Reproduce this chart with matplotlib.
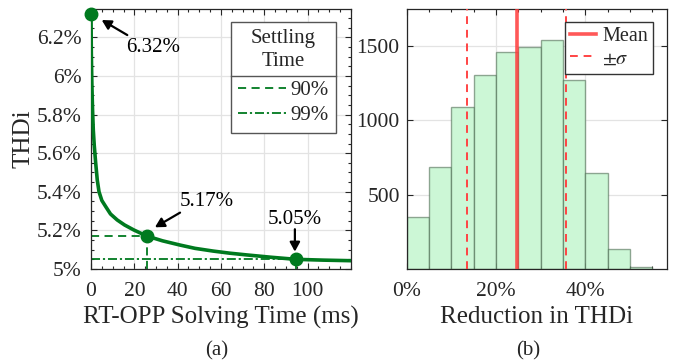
import matplotlib
matplotlib.use("Agg")
import matplotlib.pyplot as plt
from matplotlib.lines import Line2D
from matplotlib.ticker import MultipleLocator, FixedLocator, FuncFormatter

# ---------------- data ----------------
# (a) THDi vs RT-OPP solving time
solve_time_ms = [0, 0.15, 0.4, 0.7, 1.06, 1.5, 2.17, 2.9, 3.7, 5.0, 6.8, 9.0, 12.1,
                 15.5, 19.8, 25.7, 33, 41.1, 48, 56.3, 64, 71.8, 83, 94.6, 107, 120]
thdi_pct = [6.32, 6.12, 5.96, 5.83, 5.72, 5.64, 5.548, 5.46, 5.40, 5.355, 5.323, 5.285,
            5.254, 5.228, 5.202, 5.171, 5.146, 5.124, 5.107, 5.093, 5.082, 5.073, 5.061,
            5.050, 5.046, 5.043]
start_point = (0.0, 6.32)
settle90_point = (25.7, 5.17)
settle99_point = (94.6, 5.05)
point_labels = ["6.32%", "5.17%", "5.05%"]
xticks_a = [0, 20, 40, 60, 80, 100]
yticks_a = [5.0, 5.2, 5.4, 5.6, 5.8, 6.0, 6.2]
legend_a_labels = ["90%", "99%"]

# (b) histogram of THDi reduction
bin_left_pct = [0, 5, 10, 15, 20, 25, 30, 35, 40, 45, 50]
bin_counts = [347, 683, 1087, 1302, 1456, 1490, 1541, 1268, 643, 132, 15]
bin_width_pct = 5
mean_pct = 24.6
sigma_pct = 11.0
xticks_b = [0, 20, 40]
yticks_b = [500, 1000, 1500]

# ---------------- style ----------------
plt.rcParams['font.family'] = ['Liberation Serif', 'DejaVu Serif']
plt.rcParams['mathtext.fontset'] = 'stix'
TXT = '#262626'
GREEN = '#007a1f'
GRID = '#e3e3e3'

fig = plt.figure(figsize=(6.74, 3.63), dpi=100)
W, H = 674, 363
axA = fig.add_axes([91 / W, 1 - 269 / H, 260 / W, 260 / H])
axB = fig.add_axes([406.7 / W, 1 - 269 / H, 260 / W, 260 / H])

for ax in (axA, axB):
    ax.set_axisbelow(True)
    ax.grid(True, which='major', color=GRID, lw=0.9)
    ax.tick_params(which='both', direction='in', top=True, right=True,
                   colors=TXT, labelsize=15.5, width=0.8)
    ax.tick_params(which='major', length=4)
    ax.tick_params(which='minor', length=2.5)
    for s in ax.spines.values():
        s.set_color(TXT)
        s.set_linewidth(0.9)

# ---------------- (a) ----------------
axA.plot(solve_time_ms, thdi_pct, color=GREEN, lw=2.6, solid_capstyle='round', zorder=3)
# settling guide lines
axA.plot([0, settle90_point[0]], [settle90_point[1]] * 2, color=GREEN, lw=1.3,
         dashes=(4.5, 3), zorder=2)
axA.plot([settle90_point[0]] * 2, [5.0, settle90_point[1]], color=GREEN, lw=1.3,
         dashes=(4.5, 3), zorder=2)
axA.plot([0, settle99_point[0]], [settle99_point[1]] * 2, color=GREEN, lw=1.3,
         dashes=(5, 1.6, 1.2, 1.6), zorder=2)
axA.plot([settle99_point[0]] * 2, [5.0, settle99_point[1]], color=GREEN, lw=1.3,
         dashes=(5, 1.6, 1.2, 1.6), zorder=2)
pts = [start_point, settle90_point, settle99_point]
axA.plot([p[0] for p in pts], [p[1] for p in pts], 'o', color=GREEN, ms=9,
         zorder=4, clip_on=False)

arrow_kw = dict(arrowstyle='-|>,head_length=0.55,head_width=0.3', color='black',
                lw=1.6, shrinkA=0, shrinkB=0)
# text positions / arrows
axA.annotate('', xy=(4.94, 6.290), xytext=(16.75, 6.212), arrowprops=arrow_kw)
axA.text(28.8, 6.145, point_labels[0], ha='center', va='center', fontsize=15, color='black')
axA.annotate('', xy=(29.5, 5.216), xytext=(41.1, 5.292), arrowprops=arrow_kw)
axA.text(53.4, 5.350, point_labels[1], ha='center', va='center', fontsize=15, color='black')
axA.annotate('', xy=(94.1, 5.090), xytext=(94.1, 5.206), arrowprops=arrow_kw)
axA.text(94.1, 5.259, point_labels[2], ha='center', va='center', fontsize=15, color='black')

axA.set_xlim(0, 120)
axA.set_ylim(5.0, 6.347)
axA.xaxis.set_major_locator(FixedLocator(xticks_a))
axA.xaxis.set_minor_locator(MultipleLocator(5))
axA.yaxis.set_major_locator(FixedLocator(yticks_a))
axA.yaxis.set_minor_locator(MultipleLocator(0.05))
axA.yaxis.set_major_formatter(FuncFormatter(lambda v, p: f"{round(v, 2):g}%"))
axA.tick_params(axis='x', pad=9)
axA.tick_params(axis='y', pad=7)
axA.set_xlabel('RT-OPP Solving Time (ms)', fontsize=18, color=TXT, labelpad=4)
axA.set_ylabel('THDi', fontsize=18, color=TXT, labelpad=1.5)

hA = [Line2D([], [], color=GREEN, lw=1.3, dashes=(4.5, 3)),
      Line2D([], [], color=GREEN, lw=1.3, dashes=(5, 1.6, 1.2, 1.6))]
legA = axA.legend(hA, legend_a_labels, title='Settling\nTime', loc='upper right',
                  bbox_to_anchor=(0.941, 0.95), borderaxespad=0, fancybox=False,
                  edgecolor='#555555', framealpha=1, fontsize=15, title_fontsize=15,
                  handlelength=2.3, handletextpad=0.2, borderpad=0.35, labelspacing=0.25)
legA.get_frame().set_linewidth(1.0)
for t in legA.get_texts():
    t.set_color(TXT)
legA.get_title().set_color(TXT)
legA.get_title().set_multialignment('center')
legA.get_title().set_linespacing(1.3)
# extra gap between title and entries (room for the separator line)
legA._legend_box.sep = 0.45 * 15

# ---------------- (b) ----------------
axB.bar(bin_left_pct, bin_counts, width=bin_width_pct, align='edge',
        color='#ccf7d6', edgecolor=(0.2, 0.32, 0.22, 0.5), lw=1.0, zorder=2)
axB.axvline(mean_pct, color='#ff3b3b', lw=2.6, alpha=0.85, zorder=3)
axB.axvline(mean_pct - sigma_pct, color='#ff4444', lw=1.4, dashes=(4, 3), zorder=3)
axB.axvline(mean_pct + sigma_pct, color='#ff4444', lw=1.4, dashes=(4, 3), zorder=3)
axB.set_xlim(0, 58.2)
axB.set_ylim(0, 1747)
axB.xaxis.set_major_locator(FixedLocator(xticks_b))
axB.xaxis.set_minor_locator(MultipleLocator(5))
axB.xaxis.set_major_formatter(FuncFormatter(lambda v, p: f"{v:g}%"))
axB.yaxis.set_major_locator(FixedLocator(yticks_b))
axB.tick_params(axis='x', pad=9)
axB.tick_params(axis='y', pad=5)
axB.set_xlabel('Reduction in THDi', fontsize=18, color=TXT, labelpad=4)

hB = [Line2D([], [], color='#ff3b3b', lw=2.6, alpha=0.85),
      Line2D([], [], color='#ff4444', lw=1.4, dashes=(4, 3))]
legB = axB.legend(hB, ['Mean', r'$\pm\sigma$'], loc='upper right',
                  bbox_to_anchor=(0.948, 0.949), borderaxespad=0, fancybox=False,
                  edgecolor='#333333', framealpha=1, fontsize=14.5,
                  handlelength=1.3, handletextpad=0.3, borderpad=0.25, labelspacing=0.15)
legB.get_frame().set_linewidth(1.0)
for t in legB.get_texts():
    t.set_color(TXT)

fig.text(0.322, 0.034, '(a)', ha='center', va='center', fontsize=15, color=TXT)
fig.text(0.783, 0.034, '(b)', ha='center', va='center', fontsize=15, color=TXT)

# separator line under the legend title
fig.canvas.draw()
r = fig.canvas.get_renderer()
lb = legA.get_window_extent(r)
tb = legA.get_title().get_window_extent(r)
eb = legA.get_texts()[0].get_window_extent(r)
ysep = (tb.y0 + eb.y1) / 2
inv = fig.transFigure.inverted()
(x0, y0), (x1, _) = inv.transform([(lb.x0, ysep), (lb.x1, ysep)])
fig.add_artist(Line2D([x0, x1], [y0, y0], transform=fig.transFigure,
                      color='#555555', lw=1.0))

fig.savefig('out.png', dpi=100)
